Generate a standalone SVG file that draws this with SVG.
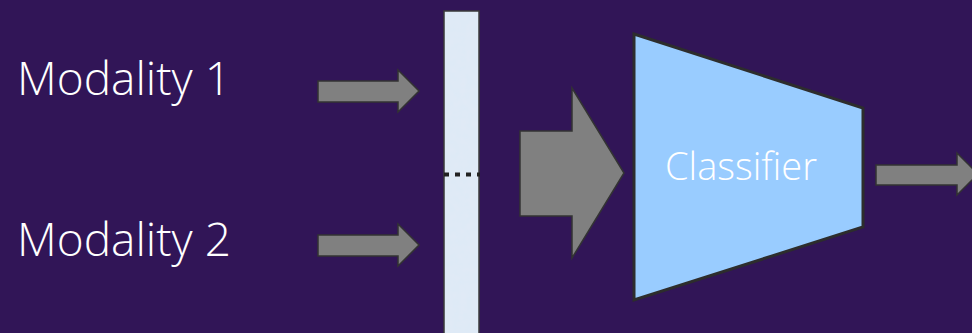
<svg xmlns="http://www.w3.org/2000/svg" width="972" height="333" viewBox="0 0 972 333">
  <style>
    .label { font-family: "Open Sans", "Liberation Sans", sans-serif; font-weight: 300; fill: #ffffff; }
    .arrow { fill: #808080; stroke: #333333; stroke-width: 1.5; stroke-linejoin: miter; }
  </style>
  <defs>
    <filter id="grain" x="0" y="0" width="100%" height="100%">
      <feTurbulence type="fractalNoise" baseFrequency="0.15" numOctaves="2" seed="4" result="noise"/>
      <feColorMatrix in="noise" type="matrix" values="0 0 0 0 0.76  0 0 0 0 0.82  0 0 0 0 0.91  0 0 0 1.1 -0.25" result="tint"/>
      <feComposite in="tint" in2="SourceGraphic" operator="in" result="spots"/>
      <feMerge><feMergeNode in="SourceGraphic"/><feMergeNode in="spots"/></feMerge>
    </filter>
  </defs>

  <rect width="972" height="333" fill="#311557"/>

  <g id="modality1">
    <text class="label" x="17" y="95" font-size="46">Modality 1</text>
  </g>
  <g id="modality2">
    <text class="label" x="17" y="256" font-size="46">Modality 2</text>
  </g>

  <g id="fusion-bar">
    <rect x="444" y="11" width="35" height="330" fill="#deeaf7" filter="url(#grain)"/>
    <rect x="444" y="11" width="35" height="330" fill="none" stroke="#3a3a3a" stroke-width="1.5"/>
    <line x1="444" y1="174.5" x2="480" y2="174.5" stroke="#222222" stroke-width="4" stroke-dasharray="5 6"/>
  </g>

  <g id="classifier">
    <polygon points="634,34 863,108 863,227 634,300" fill="#99ccff" stroke="#2d2d2d" stroke-width="3" stroke-linejoin="miter"/>
    <text class="label" x="741" y="180" font-size="38" text-anchor="middle">Classifier</text>
  </g>

  <g id="connectors">
    <polygon class="arrow" points="318,81 398,81 398,70 419,91 398,112 398,102 318,102"/>
    <polygon class="arrow" points="318,235 398,235 398,224 419,245 398,266 398,256 318,256"/>
    <polygon class="arrow" points="520,131 572,131 572,88 624,173 572,258 572,216 520,216"/>
    <polygon class="arrow" points="876,165 957,165 957,153 978,174 957,195 957,185 876,185"/>
  </g>
</svg>
